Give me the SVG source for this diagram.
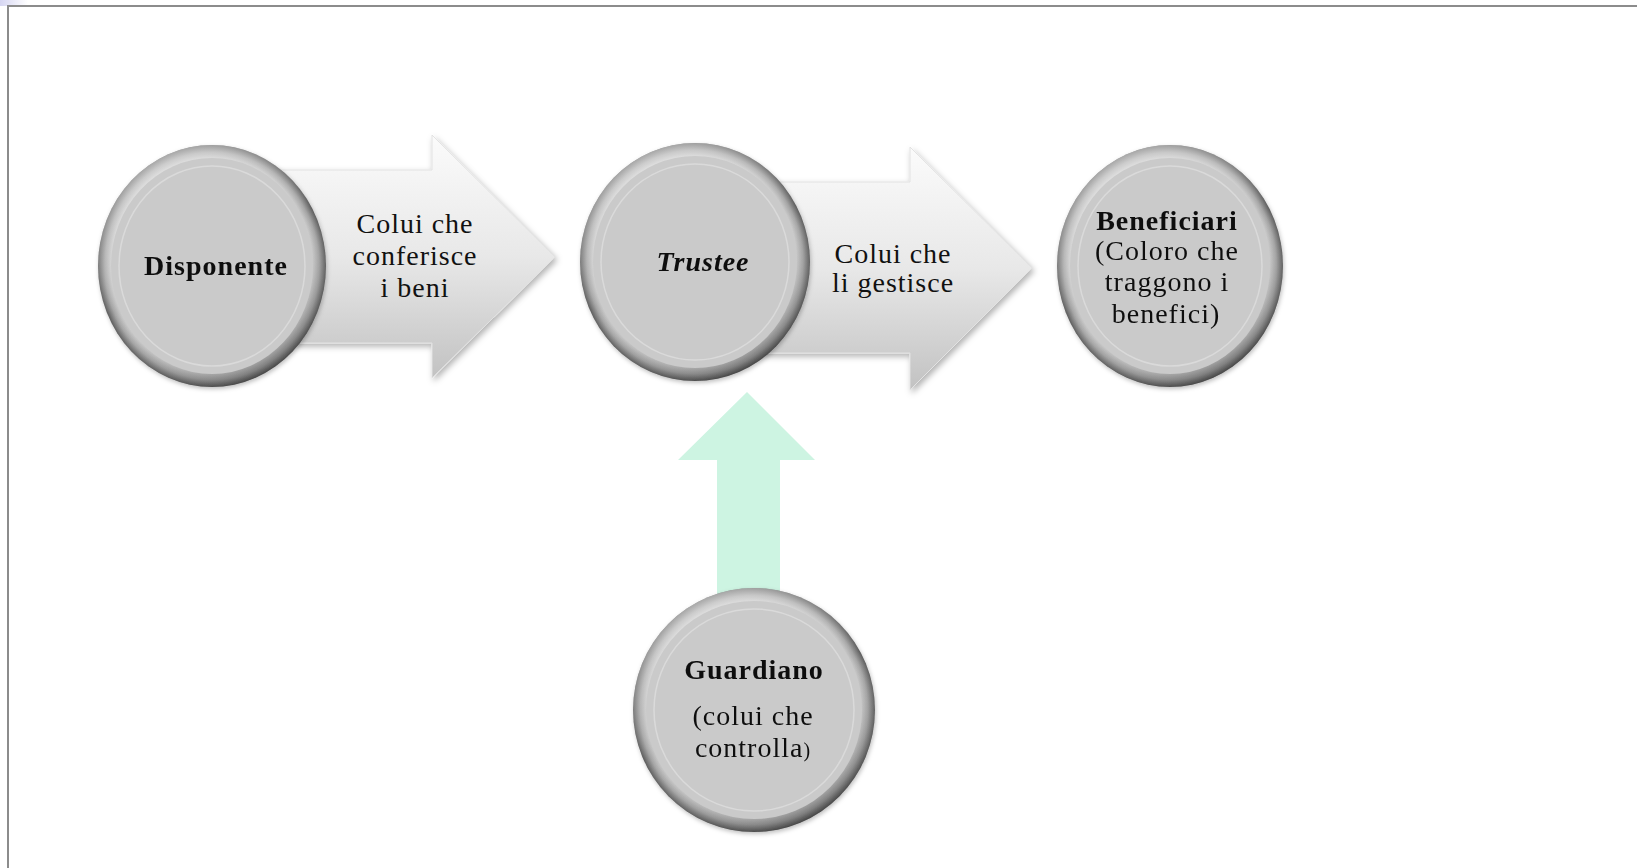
<svg xmlns="http://www.w3.org/2000/svg" width="1637" height="868" viewBox="0 0 1637 868">
<style>
.t{font-family:"Liberation Serif","Times New Roman",serif;font-size:28px;fill:#111;text-anchor:middle;letter-spacing:1px}
.b{font-weight:bold}
.bi{font-weight:bold;font-style:italic}
.face{fill:#cacaca}
.rim{fill:none;stroke:#dadada;stroke-width:1.5}
.outer{fill:url(#ring)}
.shade{fill:url(#light)}
.arr{fill:url(#arrg);stroke:#e2e2e2;stroke-width:1;filter:url(#sh)}
</style>
<defs>
<radialGradient id="ring" cx="0.5" cy="0.5" r="0.5">
<stop offset="0" stop-color="#e4e4e4"/>
<stop offset="0.86" stop-color="#dddddd"/>
<stop offset="0.94" stop-color="#a4a4a4"/>
<stop offset="1" stop-color="#5a5a5a"/>
</radialGradient>
<linearGradient id="light" x1="0.2" y1="0" x2="0.7" y2="1">
<stop offset="0" stop-color="#ffffff" stop-opacity="0.55"/>
<stop offset="0.5" stop-color="#ffffff" stop-opacity="0"/>
<stop offset="1" stop-color="#000000" stop-opacity="0.3"/>
</linearGradient>
<linearGradient id="arrg" x1="0" y1="0" x2="0" y2="1">
<stop offset="0" stop-color="#fbfbfb"/>
<stop offset="0.5" stop-color="#e8e8e8"/>
<stop offset="1" stop-color="#c2c2c2"/>
</linearGradient>
<linearGradient id="corner" x1="0" y1="0" x2="1" y2="0">
<stop offset="0" stop-color="#d6d6f2"/>
<stop offset="1" stop-color="#ffffff"/>
</linearGradient>
<filter id="sh" x="-10%" y="-10%" width="130%" height="130%">
<feDropShadow dx="2" dy="3" stdDeviation="3" flood-color="#000" flood-opacity="0.3"/>
</filter>
<filter id="csh" x="-10%" y="-10%" width="130%" height="130%">
<feDropShadow dx="1" dy="2" stdDeviation="2" flood-color="#000" flood-opacity="0.25"/>
</filter>
</defs>
<rect width="1637" height="868" fill="#ffffff"/>
<g id="frame">
<rect x="0" y="0" width="28" height="6" fill="url(#corner)"/>
<path d="M8 868 V6 H1637" fill="none" stroke="#8c8c8c" stroke-width="2"/>
</g>
<g id="connectors">
<g id="arrow1">
<polygon class="arr" points="250,170 432,170 432,135 555,257 432,378 432,343 250,343"/>
<text class="t" x="415" y="233">Colui che</text>
<text class="t" x="415" y="265">conferisce</text>
<text class="t" x="415" y="297">i beni</text>
</g>
<g id="arrow2">
<polygon class="arr" points="740,182 910,182 910,147 1032,268 910,390 910,353 740,353"/>
<text class="t" x="893" y="263">Colui che</text>
<text class="t" x="893" y="292">li gestisce</text>
</g>
<g id="arrow3">
<polygon fill="#cdf4e2" points="747,392 815,460 780,460 780,640 717,640 717,460 678,460"/>
</g>
</g>
<g id="disponente" filter="url(#csh)">
<ellipse class="outer" cx="212" cy="266" rx="114" ry="121"/>
<ellipse class="shade" cx="212" cy="266" rx="114" ry="121"/>
<ellipse class="face" cx="212" cy="266" rx="101" ry="108"/>
<ellipse class="rim" cx="212" cy="266" rx="93" ry="100"/>
<text class="t b" x="216" y="275">Disponente</text>
</g>
<g id="trustee" filter="url(#csh)">
<ellipse class="outer" cx="695" cy="262" rx="115" ry="119"/>
<ellipse class="shade" cx="695" cy="262" rx="115" ry="119"/>
<ellipse class="face" cx="695" cy="262" rx="102" ry="106"/>
<ellipse class="rim" cx="695" cy="262" rx="94" ry="98"/>
<text class="t bi" x="703" y="271">Trustee</text>
</g>
<g id="beneficiari" filter="url(#csh)">
<ellipse class="outer" cx="1170" cy="266" rx="113" ry="121"/>
<ellipse class="shade" cx="1170" cy="266" rx="113" ry="121"/>
<ellipse class="face" cx="1170" cy="266" rx="100" ry="108"/>
<ellipse class="rim" cx="1170" cy="266" rx="92" ry="100"/>
<text class="t b" x="1167" y="230">Beneficiari</text>
<text class="t" x="1167" y="260">(Coloro che</text>
<text class="t" x="1167" y="291">traggono i</text>
<text class="t" x="1166" y="323">benefici)</text>
</g>
<g id="guardiano" filter="url(#csh)">
<ellipse class="outer" cx="754" cy="710" rx="121" ry="122"/>
<ellipse class="shade" cx="754" cy="710" rx="121" ry="122"/>
<ellipse class="face" cx="754" cy="710" rx="108" ry="109"/>
<ellipse class="rim" cx="754" cy="710" rx="100" ry="101"/>
<text class="t b" x="754" y="679">Guardiano</text>
<text class="t" x="753" y="725">(colui che</text>
<text class="t" x="753" y="757">controlla<tspan font-size="20px">)</tspan></text>
</g>
</svg>
